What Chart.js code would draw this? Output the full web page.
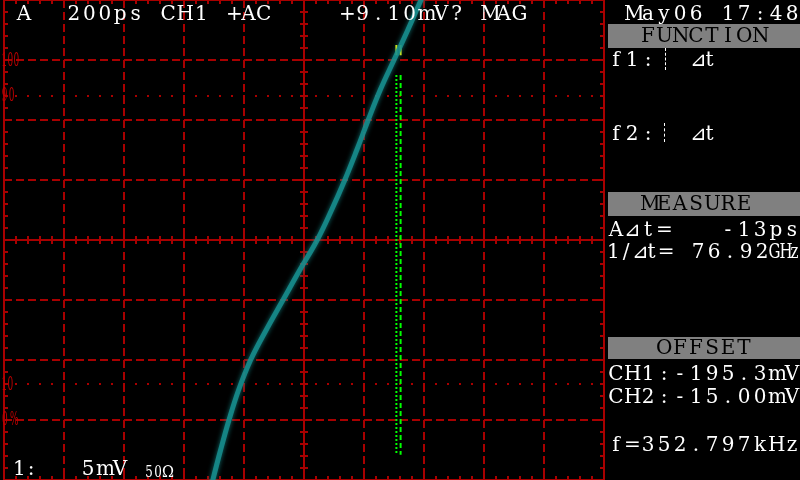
<!DOCTYPE html>
<html>
<head>
<meta charset="utf-8">
<script src="https://cdn.jsdelivr.net/npm/chart.js"></script>
<style>
  html, body { margin: 0; padding: 0; background: #000; }
  #wrap { position: relative; width: 800px; height: 480px; overflow: hidden; background: #000; }
  #scope { position: absolute; left: 0; top: 0; }
  .txt { position: absolute; white-space: pre; font-family: "DejaVu Serif", "Liberation Serif", serif; }
  .txt span { display: inline-block; text-align: center; }
  .box { position: absolute; left: 608px; width: 192px; background: #808080; }
  .mark { position: absolute; width: 0; border-left: 1px dashed #fff; }
</style>
</head>
<body>
<div id="wrap">
  <canvas id="scope" width="800" height="480"></canvas>
  <div class="box" style="top:24px;height:24px"></div>
  <div class="box" style="top:192px;height:24px"></div>
  <div class="box" style="top:337px;height:22px"></div>
  <div class="mark" style="left:665px;top:48px;height:22px"></div>
  <div class="mark" style="left:664px;top:123px;height:19px"></div>
</div>
<script>
// trace, in divisions from screen centre (x: time, y: volts)
var traceTime = [-1.60, -1.52, -1.39, -1.25, -1.09, -0.89, -0.63, -0.35, -0.07, 0.22, 0.46, 0.68, 0.88, 1.07, 1.27, 1.50, 1.73, 1.95, 2.03];
var traceVolt = [-4.33, -4.00, -3.50, -3.00, -2.50, -2.00, -1.50, -1.00, -0.50, 0.00, 0.50, 1.00, 1.50, 2.00, 2.50, 3.00, 3.50, 4.00, 4.17];

// cursors
var cursorTime = [1.54, 1.61];
var cursorSpan = [2.75, -3.58];
var flagSpan = [3.25, 3.08];

// reference levels (percent lines)
var levelNames = ['100', '90', '10', '0%'];
var levelVolts = [3.0, 2.4, -2.4, -3.0];

var gridRed = '#a80000';

function pts(xs, ys) {
    return xs.map(function (v, i) { return { x: v, y: ys[i] }; });
}

var scopeGrid = {
    id: 'scopeGrid',
    beforeDatasetsDraw: function (chart) {
        var ctx = chart.ctx, a = chart.chartArea;
        var x = chart.scales.x, y = chart.scales.y;
        var x0 = x.getPixelForValue(0), y0 = y.getPixelForValue(0);
        function seg(x1, y1, x2, y2) {
            ctx.beginPath(); ctx.moveTo(x1, y1); ctx.lineTo(x2, y2); ctx.stroke();
        }
        ctx.save();
        ctx.strokeStyle = gridRed;
        ctx.fillStyle = gridRed;
        ctx.lineWidth = 2;

        ctx.setLineDash([8, 4]);
        for (var i = -4; i <= 4; i++) {
            if (i === 0) continue;
            var px = x.getPixelForValue(i);
            seg(px, a.top, px, a.bottom);
        }
        for (var j = -3; j <= 3; j++) {
            if (j === 0) continue;
            var py = y.getPixelForValue(j);
            seg(a.left, py, a.right, py);
        }
        ctx.setLineDash([]);

        seg(x0, a.top, x0, a.bottom);
        seg(a.left, y0, a.right, y0);

        // minor ticks every 0.2 div
        for (var k = -25; k <= 25; k++) {
            var tx = x.getPixelForValue(k / 5);
            seg(tx, y0 - 4, tx, y0 + 4);
            seg(tx, a.top, tx, a.top + 4);
            seg(tx, a.bottom - 4, tx, a.bottom);
        }
        for (var m = -20; m <= 20; m++) {
            var ty = y.getPixelForValue(m / 5);
            seg(x0 - 4, ty, x0 + 4, ty);
            seg(a.left, ty, a.left + 4, ty);
            seg(a.right - 4, ty, a.right, ty);
        }

        // dotted 10% / 90% lines
        [levelVolts[1], levelVolts[2]].forEach(function (lv) {
            var ly = y.getPixelForValue(lv);
            for (var d = -25; d <= 25; d++) {
                ctx.fillRect(x.getPixelForValue(d / 5) - 1, ly - 1, 2, 2);
            }
        });

        ctx.strokeRect(a.left, a.top, a.width, a.height);
        ctx.restore();
    },
    // soft phosphor glow on the trace
    beforeDatasetDraw: function (chart, args) {
        if (args.index !== 0) return;
        chart.ctx.save();
        chart.ctx.shadowColor = 'rgba(20,140,140,0.9)';
        chart.ctx.shadowBlur = 5;
    },
    afterDatasetDraw: function (chart, args) {
        if (args.index !== 0) return;
        chart.ctx.restore();
    }
};

var ctx = document.getElementById('scope').getContext('2d');
new Chart(ctx, {
    type: 'line',
    data: {
        datasets: [
            { data: pts(traceTime, traceVolt), borderColor: 'rgba(24,145,145,0.85)', borderWidth: 5, pointRadius: 0, tension: 0.4 },
            { data: pts([cursorTime[0], cursorTime[0]], cursorSpan), borderColor: '#00ff00', borderWidth: 2, borderDash: [2, 2], pointRadius: 0 },
            { data: pts([cursorTime[1], cursorTime[1]], cursorSpan), borderColor: '#00ff00', borderWidth: 2, borderDash: [5, 3], pointRadius: 0 },
            { data: pts([cursorTime[0], cursorTime[0]], flagSpan), borderColor: '#ffff00', borderWidth: 2, pointRadius: 0 },
            { data: pts([cursorTime[1], cursorTime[1]], flagSpan), borderColor: '#ffff00', borderWidth: 2, pointRadius: 0 }
        ]
    },
    options: {
        responsive: false,
        animation: false,
        devicePixelRatio: 1,
        layout: { padding: { left: 4, right: 196, top: 0, bottom: 0 } },
        plugins: { legend: { display: false }, tooltip: { enabled: false } },
        scales: {
            x: { type: 'linear', min: -5, max: 5, display: false },
            y: { type: 'linear', min: -4, max: 4, display: false }
        }
    },
    plugins: [scopeGrid]
});

// screen text, fixed-pitch cells like the scope's bitmap font
var wrap = document.getElementById('wrap');
function put(text, left, base, opt) {
    opt = opt || {};
    var size = opt.size || 20, pitch = opt.pitch || 16, sx = opt.sx || 1;
    var d = document.createElement('div');
    d.className = 'txt';
    d.style.left = left + 'px';
    d.style.top = (base - size * 0.846) + 'px';
    d.style.fontSize = size + 'px';
    d.style.lineHeight = size + 'px';
    d.style.color = opt.color || '#fff';
    Array.from(text).forEach(function (ch) {
        var s = document.createElement('span');
        s.textContent = ch;
        s.style.width = pitch + 'px';
        if (sx !== 1) s.style.transform = 'scaleX(' + sx + ')';
        d.appendChild(s);
    });
    wrap.appendChild(d);
}

put('A', 16, 19.5);
put('200ps', 66, 19.5, { pitch: 15.5 });
put('CH1', 160, 19.5, { pitch: 16.5 });
put('+AC', 226, 19.5, { pitch: 15 });
put('+9.10mV? MAG', 339, 19.5, { pitch: 15.7 });
put('May06 17:48', 624, 19.5);

put('FUNCTION', 640, 42, { color: '#000' });
put('f1:', 608, 66);
put('⊿t', 690, 66, { pitch: 13 });
put('f2:', 608, 140);
put('⊿t', 690, 140, { pitch: 13 });

put('MEASURE', 640, 210, { color: '#000' });
put('A⊿t=   -13ps', 608, 236);
put('1/⊿t=', 607, 258, { pitch: 12.7 });
put('76.92', 690, 258);
put('GHz', 767, 258, { pitch: 11, sx: 0.75 });

put('OFFSET', 656, 354, { color: '#000' });
put('CH1:-195.3mV', 608, 380);
put('CH2:-15.00mV', 608, 403);
put('f=352.797kHz', 608, 451);

put('1:', 13, 475, { pitch: 12 });
put('5mV', 80, 475);
put('50', 144, 477, { size: 17, pitch: 8.5, sx: 0.7 });
put('Ω', 161, 477, { size: 17, pitch: 14, sx: 0.85 });

var levelBase = [66, 101, 390, 425];
var levelPitch = [5.8, 6.8, 6.2, 8];
levelNames.forEach(function (n, i) {
    put(n, 0, levelBase[i], { size: 18, pitch: levelPitch[i], sx: 0.5, color: '#c00000' });
});
</script>
</body>
</html>
